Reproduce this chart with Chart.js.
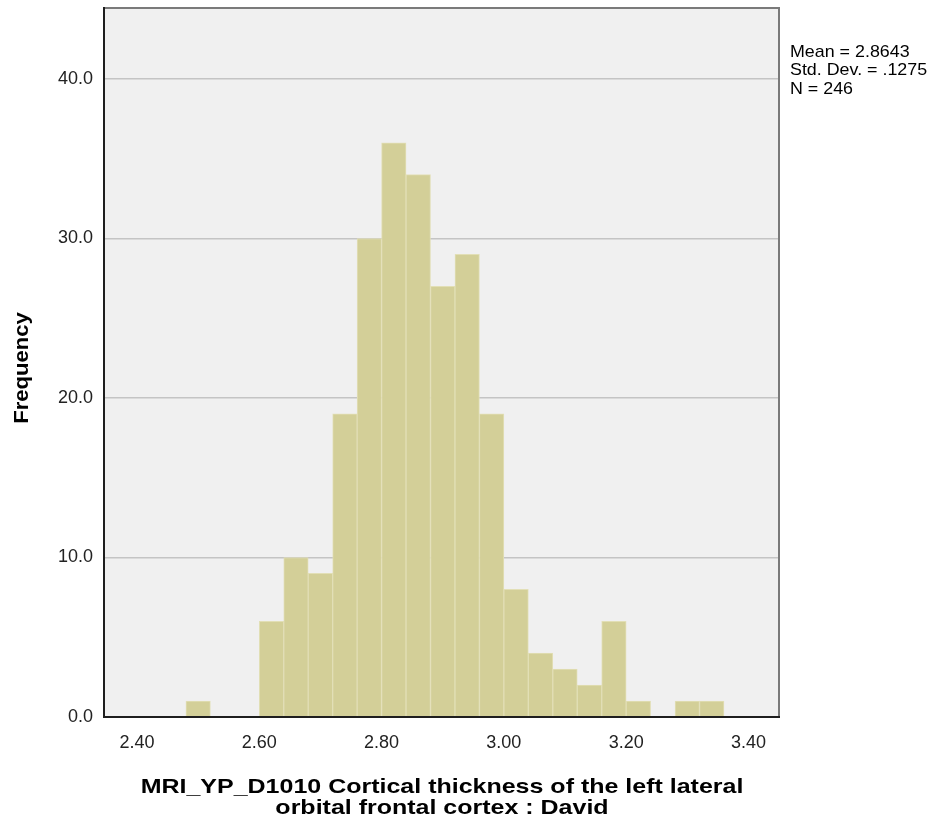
<!DOCTYPE html>
<html lang="en">
<head>
    <meta charset="UTF-8">
    <title>Cortical thickness histogram</title>
    <script src="https://cdn.jsdelivr.net/npm/chart.js"></script>
    <style>
        body {
            margin: 0;
            padding: 0;
            background-color: #ffffff;
        }
        canvas {
            display: block;
        }
    </style>
</head>
<body>
    <canvas id="histChart" width="935" height="827"></canvas>

    <script>
        // Bin centres (bin width 0.04) and counts
        const binCenters = [2.50, 2.62, 2.66, 2.70, 2.74, 2.78, 2.82, 2.86, 2.90, 2.94,
                            2.98, 3.02, 3.06, 3.10, 3.14, 3.18, 3.22, 3.30, 3.34];
        const counts = [1, 6, 10, 9, 19, 30, 36, 34, 27, 29,
                        19, 8, 4, 3, 2, 6, 1, 1, 1];
        const xTicks = [2.40, 2.60, 2.80, 3.00, 3.20, 3.40];
        const yTicks = [0, 10, 20, 30, 40];
        const statsLines = ['Mean = 2.8643', 'Std. Dev. = .1275', 'N = 246'];
        const xTitle = ['MRI_YP_D1010 Cortical thickness of the left lateral', 'orbital frontal cortex : David'];
        const yTitle = 'Frequency';

        const FONT = '"Liberation Sans", Arial, sans-serif';

        // draw text squeezed/stretched horizontally (the SPSS export is wider than Arial)
        function wideText(ctx, text, x, y, sx) {
            ctx.save();
            ctx.translate(x, y);
            ctx.scale(sx, 1);
            ctx.fillText(text, 0, 0);
            ctx.restore();
        }

        // Plot background + frame, and the free text around the chart
        const framePlugin = {
            id: 'frame',
            beforeDraw(chart) {
                const { ctx, chartArea: a } = chart;
                ctx.save();
                ctx.fillStyle = '#f0f0f0';
                ctx.fillRect(a.left, a.top, a.right - a.left, a.bottom - a.top);
                ctx.restore();
            },
            afterDraw(chart) {
                const { ctx, chartArea: a } = chart;
                ctx.save();
                // top and right border (grey)
                ctx.strokeStyle = '#7a7a7a';
                ctx.lineWidth = 2;
                ctx.beginPath();
                ctx.moveTo(a.left, a.top);
                ctx.lineTo(a.right, a.top);
                ctx.lineTo(a.right, a.bottom);
                ctx.stroke();
                // axes (dark)
                ctx.strokeStyle = '#1e1e1e';
                ctx.beginPath();
                ctx.moveTo(a.left, a.top - 1);
                ctx.lineTo(a.left, a.bottom);
                ctx.lineTo(a.right + 1, a.bottom);
                ctx.stroke();

                // stats box text
                ctx.fillStyle = '#000';
                ctx.font = '17px ' + FONT;
                ctx.textAlign = 'left';
                ctx.textBaseline = 'middle';
                statsLines.forEach((t, i) => wideText(ctx, t, 790, 52 + i * 18.5, 1.05));

                // x title
                ctx.font = 'bold 21px ' + FONT;
                ctx.textAlign = 'center';
                xTitle.forEach((t, i) => wideText(ctx, t, 442, 787 + i * 21, 1.19));

                // y title
                ctx.translate(22, 368);
                ctx.rotate(-Math.PI / 2);
                wideText(ctx, yTitle, 0, 0, 1.05);
                ctx.restore();
            }
        };

        const ctx = document.getElementById('histChart').getContext('2d');
        new Chart(ctx, {
            type: 'bar',
            data: {
                datasets: [{
                    data: binCenters.map((x, i) => ({ x: x, y: counts[i] })),
                    backgroundColor: '#d3cf98',
                    borderColor: '#e2dfb6',
                    borderWidth: 1,
                    barPercentage: 1.0,
                    categoryPercentage: 1.0
                }]
            },
            options: {
                responsive: false,
                animation: false,
                layout: {
                    padding: { top: 8, right: 156, left: 0, bottom: 0 }
                },
                plugins: {
                    legend: { display: false },
                    tooltip: { enabled: false }
                },
                scales: {
                    x: {
                        type: 'linear',
                        min: 2.346,
                        max: 3.45,
                        offset: false,
                        afterBuildTicks: (s) => { s.ticks = xTicks.map(v => ({ value: v })); },
                        afterFit: (s) => { s.height = 110; s.paddingLeft = 0; s.paddingRight = 0; },
                        grid: { display: false, drawTicks: false },
                        border: { display: false },
                        ticks: {
                            padding: 15,
                            color: '#222',
                            font: { family: FONT, size: 18 },
                            callback: (v) => Number(v).toFixed(2)
                        }
                    },
                    y: {
                        min: 0,
                        max: 44.45,
                        afterBuildTicks: (s) => { s.ticks = yTicks.map(v => ({ value: v })); },
                        afterFit: (s) => { s.width = 104; s.paddingTop = 0; s.paddingBottom = 0; },
                        grid: { color: '#c4c4c4', lineWidth: 1.5, drawTicks: false },
                        border: { display: false },
                        ticks: {
                            padding: 11,
                            color: '#222',
                            font: { family: FONT, size: 18 },
                            callback: (v) => Number(v).toFixed(1)
                        }
                    }
                }
            },
            plugins: [framePlugin]
        });
    </script>
</body>
</html>
